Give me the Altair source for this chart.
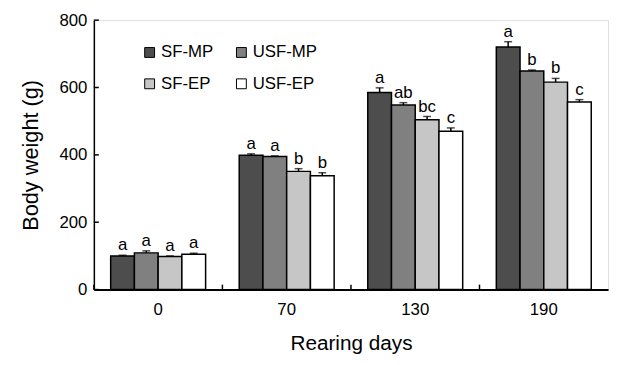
import altair as alt
import pandas as pd

days = ["0", "70", "130", "190"]
groups = ["SF-MP", "USF-MP", "SF-EP", "USF-EP"]
colors = ["#4d4d4d", "#808080", "#c6c6c6", "#ffffff"]

sf_mp = [100, 399, 585, 720]
usf_mp = [109, 395, 548, 649]
sf_ep = [98, 351, 504, 616]
usf_ep = [105, 338, 470, 557]

sf_mp_err = [2, 4, 14, 16]
usf_mp_err = [6, 2, 7, 3]
sf_ep_err = [2, 8, 10, 11]
usf_ep_err = [3, 9, 10, 7]

sf_mp_let = ["a", "a", "a", "a"]
usf_mp_let = ["a", "a", "ab", "b"]
sf_ep_let = ["a", "b", "bc", "b"]
usf_ep_let = ["a", "b", "c", "c"]

y_ticks = [0, 200, 400, 600, 800]

vals = [sf_mp, usf_mp, sf_ep, usf_ep]
errs = [sf_mp_err, usf_mp_err, sf_ep_err, usf_ep_err]
lets = [sf_mp_let, usf_mp_let, sf_ep_let, usf_ep_let]

rows = []
for gi, g in enumerate(groups):
    for di, d in enumerate(days):
        v = vals[gi][di]
        e = errs[gi][di]
        rows.append({"day": d, "group": g, "value": v, "top": v + e, "letter": lets[gi][di]})
df = pd.DataFrame(rows)

# legend fills column by column: reorder so rows read SF-MP, USF-MP / SF-EP, USF-EP
leg_order = [0, 2, 1, 3]
leg_domain = [groups[i] for i in leg_order]
leg_range = [colors[i] for i in leg_order]

FONT = "Liberation Sans"

x_enc = alt.X("day:N", sort=days, title="Rearing days",
              scale=alt.Scale(paddingInner=0, paddingOuter=0),
              axis=alt.Axis(labelAngle=0, tickSize=0, labelPadding=12, labelFontSize=17,
                            titleFontSize=21, titleFontWeight="normal",
                            titleX=260.5, titleY=61, titleBaseline="alphabetic", titleAlign="center",
                            domainWidth=2, domainColor="black", labelColor="black",
                            titleColor="black", labelFont=FONT, titleFont=FONT))
xoff = alt.XOffset("group:N", sort=groups, scale=alt.Scale(paddingInner=0, paddingOuter=0.708))
y_scale = alt.Scale(domain=[0, 800], nice=False)

base = alt.Chart(df)

bars = base.mark_bar(stroke="black", strokeWidth=1.5).encode(
    x=x_enc,
    xOffset=xoff,
    y=alt.Y("value:Q", scale=y_scale, title="Body weight (g)",
            axis=alt.Axis(values=y_ticks, tickSize=0, labelPadding=7, labelFontSize=17,
                          titleFontSize=22, titleFontWeight="normal", grid=False,
                          titleX=-64, titleY=136.5, titleAngle=-90, titleBaseline="middle",
                          titleAlign="center", domainWidth=1.5, domainColor="black",
                          labelColor="black", titleColor="black", labelFont=FONT, titleFont=FONT)),
    fill=alt.Fill("group:N", scale=alt.Scale(domain=leg_domain, range=leg_range),
                  legend=alt.Legend(title=None, orient="none", legendX=48, legendY=24,
                                    columns=2, symbolType="square", symbolSize=100,
                                    symbolStrokeColor="black", symbolStrokeWidth=1,
                                    labelFontSize=17, labelFont=FONT, labelColor="black",
                                    labelOffset=3, columnPadding=20, rowPadding=14,
                                    padding=0)),
)

err_rule = base.mark_rule(color="black", strokeWidth=1.5).encode(
    x=alt.X("day:N", sort=days), xOffset=xoff,
    y=alt.Y("value:Q", scale=y_scale), y2="top:Q",
)
err_cap = base.mark_tick(color="black", thickness=1.5, size=8, orient="horizontal").encode(
    x=alt.X("day:N", sort=days), xOffset=xoff,
    y=alt.Y("top:Q", scale=y_scale),
)
letters = base.mark_text(baseline="alphabetic", dy=-5, fontSize=17, font=FONT, color="black").encode(
    x=alt.X("day:N", sort=days), xOffset=xoff,
    y=alt.Y("top:Q", scale=y_scale), text="letter:N",
)

xt = alt.Chart(pd.DataFrame({"day": days})).mark_rule(color="black", strokeWidth=1.5).encode(
    x=alt.X("day:N", sort=days, bandPosition=0), y=alt.value(273), y2=alt.value(268)
)
yt = alt.Chart(pd.DataFrame({"v": y_ticks})).mark_rule(color="black", strokeWidth=1.5).encode(
    y=alt.Y("v:Q", scale=y_scale), x=alt.value(0), x2=alt.value(5)
)

chart = alt.layer(bars, err_rule, err_cap, letters, xt, yt).properties(
    width=521, height=273,
    autosize=alt.AutoSizeParams(type="none"),
    padding={"left": 87, "top": 10, "right": 4, "bottom": 66},
).configure_view(stroke="black", strokeWidth=1.5).configure(background="white")

chart.save("out.html", embed_options={"renderer": "svg", "actions": False})
